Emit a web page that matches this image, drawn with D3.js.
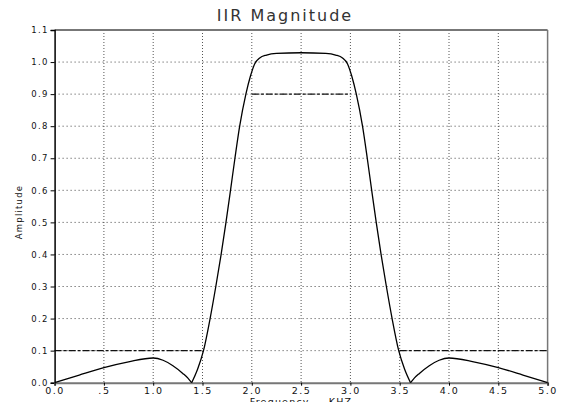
<!DOCTYPE html>
<html>
<head>
<meta charset="utf-8">
<script src="https://cdn.jsdelivr.net/npm/d3@7"></script>
<style>
body { margin:0; background:#fff; }
text { font-family: "DejaVu Sans", sans-serif; fill:#111; }
</style>
</head>
<body>
<div id="chart"></div>
<script>
// magnitude response
var freq = [0.0, 0.25, 0.5, 0.75, 1.0, 1.1, 1.2, 1.3, 1.35, 1.39,
            1.45, 1.51, 1.577, 1.635, 1.689, 1.738, 1.784, 1.829, 1.877, 1.94, 1.985, 2.03, 2.08, 2.15, 2.25, 2.5,
            2.75, 2.85, 2.92, 2.97, 3.015, 3.06, 3.123, 3.171, 3.216, 3.262, 3.311, 3.365, 3.423, 3.49, 3.55, 3.61,
            3.65, 3.7, 3.8, 3.9, 4.0, 4.25, 4.5, 4.75, 5.0];
var amp  = [0.0, 0.024, 0.047, 0.065, 0.077, 0.070, 0.053, 0.029, 0.015, 0.0,
            0.042, 0.1, 0.2, 0.3, 0.4, 0.5, 0.6, 0.7, 0.8, 0.9, 0.955, 0.995, 1.013, 1.022, 1.027, 1.029,
            1.027, 1.022, 1.013, 0.995, 0.955, 0.9, 0.8, 0.7, 0.6, 0.5, 0.4, 0.3, 0.2, 0.1, 0.042, 0.0,
            0.015, 0.029, 0.053, 0.070, 0.077, 0.065, 0.047, 0.024, 0.0];

// spec lines
var specs = [
  {x0:0.0, x1:1.5, y:0.1},
  {x0:2.0, x1:3.0, y:0.9},
  {x0:3.5, x1:5.0, y:0.1}
];

var xTicks = [0, 0.5, 1.0, 1.5, 2.0, 2.5, 3.0, 3.5, 4.0, 4.5, 5.0];
var xTickLabels = ["0.0", ".5", "1.0", "1.5", "2.0", "2.5", "3.0", "3.5", "4.0", "4.5", "5.0"];
var yTicks = [0, 0.1, 0.2, 0.3, 0.4, 0.5, 0.6, 0.7, 0.8, 0.9, 1.0, 1.1];

var W = 562, H = 402;
var mLeft = 54.6, mRight = 547.6, mTop = 30, mBottom = 382.7;

var svg = d3.select("#chart").append("svg")
            .attr("width", W).attr("height", H);

var x = d3.scaleLinear().domain([0, 5]).range([mLeft, mRight]);
var y = d3.scaleLinear().domain([0, 1.1]).range([mBottom, mTop]);

/*grid*/
svg.selectAll(".vgrid")
   .data(xTicks.slice(1, -1))
   .enter().append("line")
   .attr("x1", function(d){ return x(d); })
   .attr("x2", function(d){ return x(d); })
   .attr("y1", mTop).attr("y2", mBottom)
   .attr("stroke", "#555").attr("stroke-width", 1)
   .attr("stroke-dasharray", "1,2");

svg.selectAll(".hgrid")
   .data(yTicks.slice(1, -1))
   .enter().append("line")
   .attr("x1", mLeft).attr("x2", mRight)
   .attr("y1", function(d){ return y(d); })
   .attr("y2", function(d){ return y(d); })
   .attr("stroke", "#444").attr("stroke-width", 1)
   .attr("stroke-dasharray", "1,3");

/*spec lines*/
svg.selectAll(".spec")
   .data(specs)
   .enter().append("line")
   .attr("x1", function(d){ return x(d.x0); })
   .attr("x2", function(d){ return x(d.x1); })
   .attr("y1", function(d){ return y(d.y); })
   .attr("y2", function(d){ return y(d.y); })
   .attr("stroke", "#111").attr("stroke-width", 1.1)
   .attr("stroke-dasharray", "7,2,3,2");

/*frame*/
svg.append("line").attr("x1", mLeft).attr("x2", mRight).attr("y1", mTop).attr("y2", mTop)
   .attr("stroke", "#777").attr("stroke-width", 2);
svg.append("line").attr("x1", mRight).attr("x2", mRight).attr("y1", mTop).attr("y2", mBottom)
   .attr("stroke", "#777").attr("stroke-width", 1.5);

/*axes*/
var yAxis = d3.axisLeft(y).tickValues(yTicks).tickSize(4).tickPadding(2)
              .tickFormat(d3.format(".1f"));
var gy = svg.append("g").attr("transform", "translate(" + mLeft + ",0)").call(yAxis);
gy.select(".domain").attr("stroke", "#000").attr("stroke-width", 1.5);
gy.selectAll("text").style("font-size", "8.5px").style("letter-spacing", "1.3px");

var xAxis = d3.axisBottom(x).tickValues(xTicks).tickSize(3).tickPadding(2)
              .tickFormat(function(d, i){ return xTickLabels[i]; });
var gx = svg.append("g").attr("transform", "translate(0," + mBottom + ")").call(xAxis);
gx.select(".domain").attr("stroke", "#777").attr("stroke-width", 2);
gx.selectAll("text").style("font-size", "9.5px").style("letter-spacing", "1.5px");

/*curve, split at the nulls so they stay sharp*/
var pts = freq.map(function(f, i){ return {f: f, a: amp[i]}; });
var cuts = [0];
pts.forEach(function(p, i){ if (i > 0 && i < pts.length - 1 && p.a === 0) cuts.push(i); });
cuts.push(pts.length - 1);

var line = d3.line()
             .x(function(d){ return x(d.f); })
             .y(function(d){ return y(d.a); })
             .curve(d3.curveMonotoneX);

for (var i = 0; i < cuts.length - 1; i++) {
  svg.append("path")
     .datum(pts.slice(cuts[i], cuts[i+1] + 1))
     .attr("d", line)
     .attr("fill", "none")
     .attr("stroke", "#000")
     .attr("stroke-width", 1.3);
}

/*titles*/
svg.append("text").attr("x", 285).attr("y", 21)
   .attr("text-anchor", "middle")
   .style("font-size", "16px").style("letter-spacing", "2px").style("fill", "#333")
   .text("IIR Magnitude");

svg.append("text").attr("x", 301).attr("y", 404.5)
   .attr("text-anchor", "middle")
   .style("font-size", "9.5px").style("letter-spacing", "1.2px")
   .text("Frequency — KHZ");

svg.append("text")
   .attr("transform", "translate(22,212) rotate(-90)")
   .attr("text-anchor", "middle")
   .style("font-size", "8.5px").style("letter-spacing", "1.2px")
   .text("Amplitude");
</script>
</body>
</html>
